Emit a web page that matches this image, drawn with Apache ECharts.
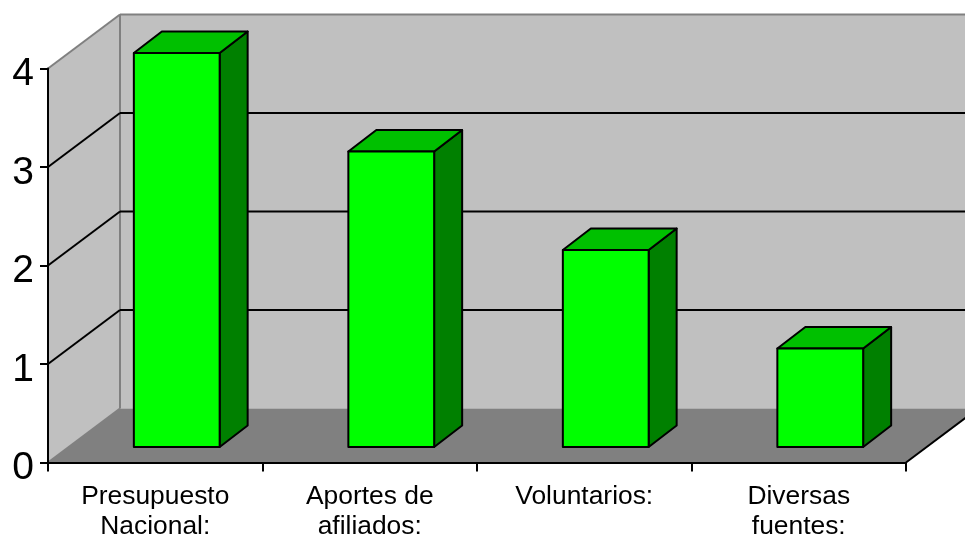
<!DOCTYPE html>
<html>
<head>
<meta charset="utf-8">
<title>Fuentes</title>
<script src="https://cdn.jsdelivr.net/npm/echarts@6/dist/echarts.min.js"></script>
<style>
  html, body { margin: 0; padding: 0; background: #fff; }
  #chart { width: 965px; height: 535px; }
</style>
</head>
<body>
<div id="chart"></div>
<script>
const categories = ['Presupuesto\nNacional:', 'Aportes de\nafiliados:', 'Voluntarios:', 'Diversas\nfuentes:']
const barValues = [4, 3, 2, 1]
const gridValues = [1, 2, 3]

// fake 3d: how far the back wall and the bars are pushed, in px
const WALL_DX = 72
const WALL_DY = -54
const BAR_FRONT_DX = 21.5
const BAR_FRONT_DY = -15.5
const BAR_DEPTH_DX = 28
const BAR_DEPTH_DY = -21.5
const LINE = 2

function poly(points, fill, stroke, z2) {
  return {
    type: 'polygon',
    z2: z2 || 0,
    shape: { points },
    style: { fill, stroke: stroke || null, lineWidth: stroke ? LINE : 0, lineJoin: 'round' }
  }
}

function seg(x1, y1, x2, y2, stroke, z2) {
  return {
    type: 'line',
    z2: z2 || 0,
    shape: { x1, y1, x2, y2 },
    style: { stroke, lineWidth: LINE }
  }
}

function renderWalls(params, api) {
  const { x, y, width, height } = params.coordSys
  const left = x
  const right = x + width
  const bottom = y + height
  const top = y
  const children = [
    // back wall
    poly([[left + WALL_DX, top + WALL_DY], [right + WALL_DX, top + WALL_DY], [right + WALL_DX, bottom + WALL_DY], [left + WALL_DX, bottom + WALL_DY]], '#c0c0c0'),
    // side wall
    poly([[left, top], [left + WALL_DX, top + WALL_DY], [left + WALL_DX, bottom + WALL_DY], [left, bottom]], '#c0c0c0'),
    // floor
    poly([[left, bottom], [left + WALL_DX, bottom + WALL_DY], [right + WALL_DX, bottom + WALL_DY], [right, bottom]], '#808080'),
    seg(left, top, left + WALL_DX, top + WALL_DY, '#808080', 1),
    seg(left + WALL_DX, top + WALL_DY, right + WALL_DX, top + WALL_DY, '#808080', 1),
    seg(left + WALL_DX, top + WALL_DY, left + WALL_DX, bottom + WALL_DY, '#808080', 1),
    seg(left, bottom, left + WALL_DX, bottom + WALL_DY, '#808080', 1),
    seg(right, bottom, right + WALL_DX, bottom + WALL_DY, '#000', 1)
  ]
  gridValues.forEach((v) => {
    const gy = api.coord([0, v])[1]
    children.push(seg(left, gy, left + WALL_DX, gy + WALL_DY, '#000', 2))
    children.push(seg(left + WALL_DX, gy + WALL_DY, right + WALL_DX, gy + WALL_DY, '#000', 2))
  })
  return { type: 'group', children }
}

function renderBar(params, api) {
  const top = api.coord([api.value(0), api.value(1)])
  const base = api.coord([api.value(0), 0])
  const w = api.size([1, 0])[0] * 0.4
  const x0 = top[0] - w / 2 + BAR_FRONT_DX
  const x1 = x0 + w
  const yTop = top[1] + BAR_FRONT_DY
  const yBase = base[1] + BAR_FRONT_DY
  const dx = BAR_DEPTH_DX
  const dy = BAR_DEPTH_DY
  return {
    type: 'group',
    children: [
      poly([[x1, yTop], [x1 + dx, yTop + dy], [x1 + dx, yBase + dy], [x1, yBase]], '#008000', '#000'),
      poly([[x0, yTop], [x0 + dx, yTop + dy], [x1 + dx, yTop + dy], [x1, yTop]], '#00c000', '#000'),
      poly([[x0, yTop], [x1, yTop], [x1, yBase], [x0, yBase]], '#00ff00', '#000', 1)
    ]
  }
}

const chart = echarts.init(document.getElementById('chart'), null, { renderer: 'canvas' })

chart.setOption({
  animation: false,
  backgroundColor: '#fff',
  tooltip: { show: false },
  grid: { left: 48, top: 68.5, width: 858, height: 394, containLabel: false, outerBoundsMode: 'none' },
  xAxis: {
    type: 'category',
    data: categories,
    z: 3,
    axisLine: { lineStyle: { color: '#000', width: LINE } },
    axisTick: { show: true, length: 9, lineStyle: { color: '#000', width: LINE } },
    axisLabel: {
      interval: 0,
      margin: 19,
      verticalAlign: 'top',
      color: '#000',
      fontFamily: 'Liberation Sans',
      fontSize: 26.4,
      lineHeight: 30
    },
    splitLine: { show: false }
  },
  yAxis: {
    type: 'value',
    min: 0,
    max: 4,
    interval: 1,
    z: 3,
    axisLine: { show: true, lineStyle: { color: '#000', width: LINE } },
    axisTick: { show: true, length: 8, lineStyle: { color: '#000', width: LINE } },
    axisLabel: {
      margin: 14,
      verticalAlign: 'top',
      lineHeight: 12,
      color: '#000',
      fontFamily: 'Liberation Sans',
      fontSize: 39
    },
    splitLine: { show: false }
  },
  series: [
    {
      type: 'custom',
      name: 'paredes',
      silent: true,
      z: 1,
      data: [[0, 0]],
      encode: { x: 0, y: 1 },
      renderItem: renderWalls
    },
    {
      type: 'custom',
      name: 'barras',
      silent: true,
      z: 4,
      data: barValues.map((v, i) => [i, v]),
      encode: { x: 0, y: 1 },
      renderItem: renderBar
    }
  ]
})
</script>
</body>
</html>
